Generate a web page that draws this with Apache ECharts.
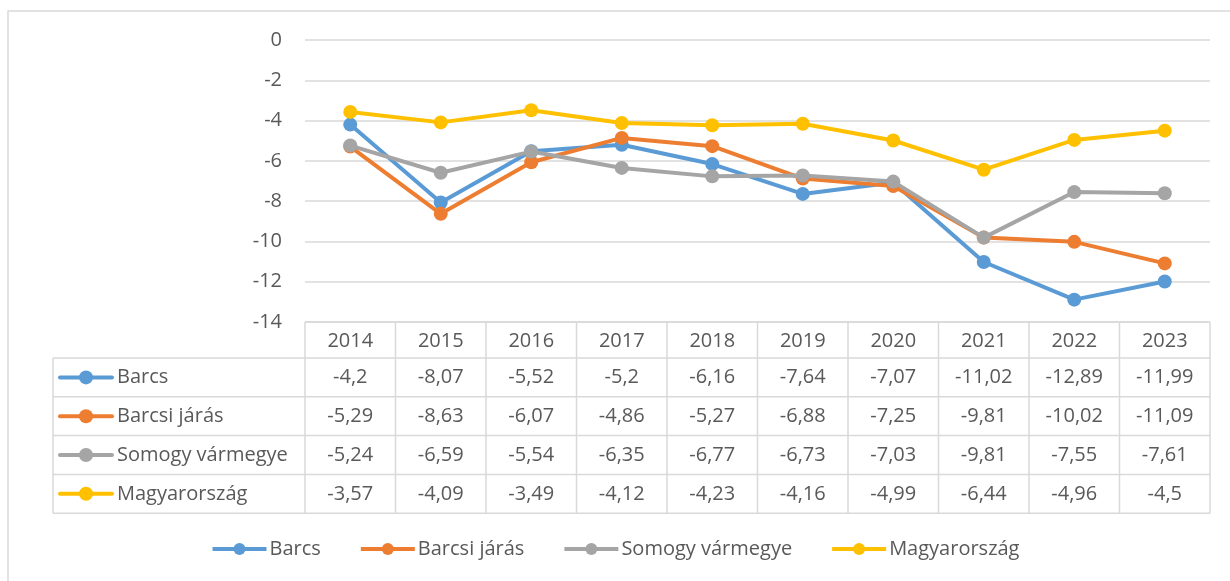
<!DOCTYPE html>
<html>
<head>
<meta charset="utf-8">
<script src="https://cdn.jsdelivr.net/npm/echarts@6/dist/echarts.min.js"></script>
<style>
  html, body { margin: 0; padding: 0; background: #fff; }
  #chart { width: 1230px; height: 581px; }
</style>
</head>
<body>
<div id="chart"></div>
<script>
const years = ["2014", "2015", "2016", "2017", "2018", "2019", "2020", "2021", "2022", "2023"];
const barcs = [-4.2, -8.07, -5.52, -5.2, -6.16, -7.64, -7.07, -11.02, -12.89, -11.99];
const barcsiJaras = [-5.29, -8.63, -6.07, -4.86, -5.27, -6.88, -7.25, -9.81, -10.02, -11.09];
const somogy = [-5.24, -6.59, -5.54, -6.35, -6.77, -6.73, -7.03, -9.81, -7.55, -7.61];
const magyarorszag = [-3.57, -4.09, -3.49, -4.12, -4.23, -4.16, -4.99, -6.44, -4.96, -4.5];

const seriesNames = ["Barcs", "Barcsi járás", "Somogy vármegye", "Magyarország"];
const seriesData = [barcs, barcsiJaras, somogy, magyarorszag];
const colors = ["#5B9BD5", "#ED7D31", "#A5A5A5", "#FFC000"];

const font = "'Open Sans', 'Noto Sans', sans-serif";
const fs = 20;
const textColor = "#595959";
const lineColor = "#d9d9d9";

const chart = echarts.init(document.getElementById("chart"));

chart.setOption({
  animation: false,
  color: colors,
  textStyle: { fontFamily: font },
  grid: { left: 305, right: 20, top: 40, bottom: 259 },
  legend: {
    bottom: 17,
    left: "center",
    itemWidth: 54,
    itemHeight: 15,
    itemGap: 38,
    lineStyle: { width: 4 },
    textStyle: { color: textColor, fontSize: fs, fontFamily: font, padding: [0, 0, 0, -2] },
    data: seriesNames
  },
  xAxis: {
    type: "category",
    data: years,
    boundaryGap: true,
    axisLine: { show: false },
    axisTick: { show: false },
    axisLabel: { show: false }
  },
  yAxis: {
    type: "value",
    min: -14,
    max: 0,
    interval: 2,
    axisLine: { show: false },
    axisTick: { show: false },
    axisLabel: { color: textColor, fontSize: fs, margin: 23, fontFamily: font },
    splitLine: { lineStyle: { color: lineColor, width: 1.5 } }
  },
  series: seriesData.map((d, i) => ({
    name: seriesNames[i],
    type: "line",
    data: d,
    symbol: "circle",
    symbolSize: 14,
    lineStyle: { width: 4 },
    z: 2 + i
  }))
});

// data table under the plot, placed with the axis scale
function fmt(v) { return String(v).replace(".", ","); }

const x0 = chart.convertToPixel({ xAxisIndex: 0 }, years[0]);
const x1 = chart.convertToPixel({ xAxisIndex: 0 }, years[1]);
const colW = x1 - x0;
const plotLeft = x0 - colW / 2;
const plotRight = plotLeft + colW * years.length;
const tableTop = chart.convertToPixel({ yAxisIndex: 0 }, -14);
const headerH = 36;
const rowH = 38.8;
const tableLeft = 53;
const tableBottom = tableTop + headerH + rowH * seriesNames.length;

const g = [];
const ls = { stroke: lineColor, lineWidth: 1.5 };

// outer frame
g.push({ type: "rect", shape: { x: 8, y: 11, width: 1240, height: 600 }, style: { fill: null, stroke: lineColor, lineWidth: 1.5 }, silent: true });

// horizontal lines
g.push({ type: "line", shape: { x1: plotLeft, y1: tableTop, x2: plotRight, y2: tableTop }, style: ls });
for (let r = 0; r <= seriesNames.length; r++) {
  const y = tableTop + headerH + r * rowH;
  g.push({ type: "line", shape: { x1: tableLeft, y1: y, x2: plotRight, y2: y }, style: ls });
}
// vertical lines
g.push({ type: "line", shape: { x1: tableLeft, y1: tableTop + headerH, x2: tableLeft, y2: tableBottom }, style: ls });
for (let c = 0; c <= years.length; c++) {
  const x = plotLeft + c * colW;
  g.push({ type: "line", shape: { x1: x, y1: tableTop, x2: x, y2: tableBottom }, style: ls });
}
// header
years.forEach((yr, c) => {
  g.push({
    type: "text",
    style: { text: yr, x: plotLeft + (c + 0.5) * colW, y: tableTop + headerH / 2 + 1, align: "center", verticalAlign: "middle", fill: textColor, fontSize: fs, fontFamily: font }
  });
});
// rows
seriesNames.forEach((name, r) => {
  const cy = tableTop + headerH + (r + 0.5) * rowH;
  g.push({ type: "line", shape: { x1: 60, y1: cy, x2: 112, y2: cy }, style: { stroke: colors[r], lineWidth: 4, lineCap: "round" } });
  g.push({ type: "circle", shape: { cx: 86, cy: cy, r: 7 }, style: { fill: colors[r] } });
  g.push({ type: "text", style: { text: name, x: 117, y: cy, align: "left", verticalAlign: "middle", fill: textColor, fontSize: fs, fontFamily: font } });
  seriesData[r].forEach((v, c) => {
    g.push({
      type: "text",
      style: { text: fmt(v), x: plotLeft + (c + 0.5) * colW, y: cy, align: "center", verticalAlign: "middle", fill: textColor, fontSize: fs, fontFamily: font }
    });
  });
});

chart.setOption({ graphic: { elements: g } });
</script>
</body>
</html>
